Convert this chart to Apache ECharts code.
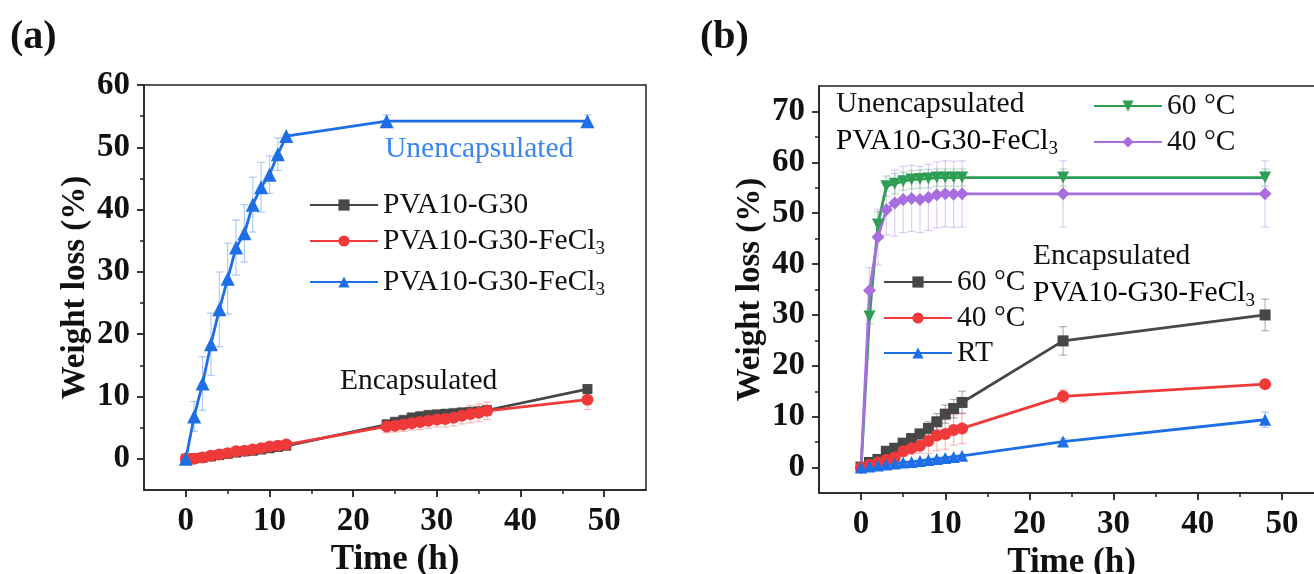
<!DOCTYPE html>
<html>
<head>
<meta charset="utf-8">
<script src="https://cdn.jsdelivr.net/npm/echarts@6/dist/echarts.min.js"></script>
<style>
  html, body { margin: 0; padding: 0; background: #fff; }
  #chart { width: 1314px; height: 574px; }
</style>
</head>
<body>
<div id="chart"></div>
<script>
// ---- panel (a): PVA10-G30 vs FeCl3, encapsulated / unencapsulated ----
const timeUnencA = [0, 1, 2, 3, 4, 5, 6, 7, 8, 9, 10, 11, 12, 24, 48];
const unencA = [0, 6.8, 12.1, 18.4, 24.0, 28.9, 33.9, 36.2, 40.8, 43.6, 45.6, 48.9, 51.8, 54.2, 54.2];
const unencAErr = [0, 2.4, 4.3, 5.0, 6.0, 5.7, 4.4, 4.6, 4.4, 4.0, 3.0, 2.6, 0.4, 1.0, 1.0];

const timeEncA = [0, 1, 2, 3, 4, 5, 6, 7, 8, 9, 10, 11, 12,
  24, 25, 26, 27, 28, 29, 30, 31, 32, 33, 34, 35, 36, 48];
const pvaA = [0, 0.1, 0.2, 0.4, 0.6, 0.8, 1.0, 1.2, 1.3, 1.5, 1.7, 1.9, 2.1,
  5.5, 5.9, 6.2, 6.6, 6.8, 7.0, 7.1, 7.2, 7.3, 7.4, 7.5, 7.6, 7.8, 11.2];
const pvaAErr = [0, 0.2, 0.2, 0.3, 0.3, 0.3, 0.3, 0.3, 0.3, 0.3, 0.3, 0.3, 0.3,
  0.8, 0.8, 0.8, 0.8, 0.8, 0.8, 0.8, 0.8, 0.8, 0.8, 0.8, 0.8, 0.8, 0.7];
const fecl3A = [0, 0, 0.2, 0.5, 0.7, 0.9, 1.2, 1.3, 1.5, 1.7, 2.0, 2.1, 2.3,
  5.2, 5.3, 5.5, 5.7, 5.9, 6.1, 6.3, 6.4, 6.6, 6.9, 7.2, 7.4, 7.7, 9.5];
const fecl3AErr = [0, 0.3, 0.3, 0.3, 0.3, 0.3, 0.3, 0.3, 0.3, 0.3, 0.4, 0.4, 0.4,
  1.0, 1.0, 1.1, 1.1, 1.2, 1.2, 1.2, 1.3, 1.3, 1.3, 1.4, 1.4, 1.4, 1.6];

// ---- panel (b): temperature ----
const timeB = [0, 1, 2, 3, 4, 5, 6, 7, 8, 9, 10, 11, 12, 24, 48];
const unenc60 = [0, 29.7, 47.8, 55.3, 55.8, 56.3, 56.6, 56.7, 56.8, 57.0, 57.0, 57.0, 57.0, 57.0, 57.0];
const unenc60Err = [0, 1.5, 2.5, 2.0, 2.0, 1.8, 1.8, 1.8, 1.8, 1.7, 1.7, 1.7, 1.7, 1.7, 1.7];
const unenc40 = [0, 34.8, 45.3, 50.7, 52.0, 52.7, 52.9, 52.7, 53.1, 53.6, 53.8, 53.7, 53.8, 53.8, 53.8];
const unenc40Err = [0, 4.5, 5.5, 5.0, 6.5, 6.5, 6.5, 6.5, 6.5, 6.5, 6.5, 6.5, 6.5, 6.5, 6.5];
const enc60 = [0, 1.0, 1.6, 3.2, 3.8, 4.8, 5.7, 6.6, 7.7, 9.0, 10.5, 11.6, 12.8, 24.9, 30.0];
const enc60Err = [0, 0.3, 0.4, 0.5, 0.6, 0.7, 0.8, 1.0, 1.3, 1.6, 1.8, 1.8, 2.2, 2.8, 3.1];
const enc40 = [0, 0.5, 1.0, 1.5, 2.0, 3.2, 3.8, 4.3, 5.2, 6.3, 6.6, 7.4, 7.7, 14.0, 16.4];
const enc40Err = [0, 0.3, 0.4, 0.6, 0.8, 1.0, 1.2, 1.5, 2.5, 3.0, 3.0, 3.0, 3.0, 1.3, 0.4];
const encRT = [0, 0.2, 0.4, 0.6, 0.8, 1.0, 1.1, 1.3, 1.5, 1.7, 1.9, 2.1, 2.3, 5.1, 9.4];
const encRTErr = [0, 0.1, 0.1, 0.2, 0.2, 0.2, 0.2, 0.2, 0.3, 0.3, 0.3, 0.3, 0.3, 0.6, 1.5];

const xMajor = [0, 10, 20, 30, 40, 50];
const xMinor = [5, 15, 25, 35, 45];
const yMajorA = [0, 10, 20, 30, 40, 50, 60];
const yMinorA = [5, 15, 25, 35, 45, 55];
const yMajorB = [0, 10, 20, 30, 40, 50, 60, 70];
const yMinorB = [5, 15, 25, 35, 45, 55, 65];

const FONT = "Liberation Serif";
const AXIS_COLOR = "#222";
const C_BLACK = "#474747";
const C_RED = "#f03a3a";
const C_BLUE = "#1e6ee6";
const C_GREEN = "#2f9e55";
const C_PURPLE = "#a86ee0";

const RICH = {
  a: { fontFamily: FONT, fontSize: 29.5, lineHeight: 36, color: "#111" },
  s: { fontFamily: FONT, fontSize: 19, lineHeight: 12, color: "#111", verticalAlign: "bottom" },
};

function mainX(grid) {
  return {
    gridIndex: grid, type: "value", min: -5, max: 55, position: "bottom",
    name: "Time (h)", nameLocation: "middle", nameGap: 47,
    nameTextStyle: { fontFamily: FONT, fontWeight: "bold", fontSize: 35, color: "#111" },
    axisLine: { show: true, onZero: false, lineStyle: { color: AXIS_COLOR, width: 1.5 } },
    axisTick: { show: true, inside: false, length: 7, customValues: xMajor, lineStyle: { color: AXIS_COLOR, width: 1.8 } },
    axisLabel: { customValues: xMajor, margin: 15, fontFamily: FONT, fontWeight: "bold", fontSize: 33, color: "#111" },
    splitLine: { show: false },
  };
}
function minorX(grid) {
  return {
    gridIndex: grid, type: "value", min: -5, max: 55, position: "bottom",
    axisLine: { show: false, onZero: false },
    axisTick: { show: true, inside: false, length: 4, customValues: xMinor, lineStyle: { color: AXIS_COLOR, width: 1.5 } },
    axisLabel: { show: false },
    splitLine: { show: false },
  };
}
function mainY(grid, max, major) {
  return {
    gridIndex: grid, type: "value", min: -5, max: max, position: "left",
    name: "Weight loss (%)", nameLocation: "middle", nameGap: 52, nameRotate: 90,
    nameTextStyle: { fontFamily: FONT, fontWeight: "bold", fontSize: 33, color: "#111" },
    axisLine: { show: true, onZero: false, lineStyle: { color: AXIS_COLOR, width: 1.5 } },
    axisTick: { show: true, inside: false, length: 7, customValues: major, lineStyle: { color: AXIS_COLOR, width: 1.8 } },
    axisLabel: { customValues: major, margin: 14, fontFamily: FONT, fontWeight: "bold", fontSize: 33, color: "#111" },
    splitLine: { show: false },
  };
}
function minorY(grid, max, minor) {
  return {
    gridIndex: grid, type: "value", min: -5, max: max, position: "left",
    axisLine: { show: false, onZero: false },
    axisTick: { show: true, inside: false, length: 4, customValues: minor, lineStyle: { color: AXIS_COLOR, width: 1.5 } },
    axisLabel: { show: false },
    splitLine: { show: false },
  };
}

function errorBars(xs, vals, errs, color, axis) {
  return {
    type: "custom", xAxisIndex: axis, yAxisIndex: axis, silent: true, z: 1,
    data: xs.map((t, i) => [t, vals[i] - errs[i], vals[i] + errs[i]]),
    encode: { x: 0, y: [1, 2] },
    renderItem: function (params, api) {
      const lo = api.coord([api.value(0), api.value(1)]);
      const hi = api.coord([api.value(0), api.value(2)]);
      const w = 4;
      const st = { stroke: color, lineWidth: 1.2 };
      return {
        type: "group",
        children: [
          { type: "line", shape: { x1: lo[0], y1: lo[1], x2: hi[0], y2: hi[1] }, style: st },
          { type: "line", shape: { x1: lo[0] - w, y1: lo[1], x2: lo[0] + w, y2: lo[1] }, style: st },
          { type: "line", shape: { x1: hi[0] - w, y1: hi[1], x2: hi[0] + w, y2: hi[1] }, style: st },
        ],
      };
    },
  };
}

function lineSeries(name, xs, vals, color, symbol, size, axis, rotate) {
  return {
    name: name, type: "line", xAxisIndex: axis, yAxisIndex: axis, z: 3,
    data: xs.map((t, i) => [t, vals[i]]),
    symbol: symbol, symbolSize: size, symbolRotate: rotate || 0,
    showSymbol: true,
    color: color,
    itemStyle: { color: color },
    lineStyle: { color: color, width: 2.8 },
  };
}

function legendAt(name, label, left, cy) {
  return {
    data: [name], left: left, top: cy - 14, padding: 0, orient: "vertical",
    itemWidth: 68, itemHeight: 14, selectedMode: false,
    formatter: function () { return label; },
    textStyle: { rich: RICH },
  };
}

const myChart = echarts.init(document.getElementById("chart"));

const gridBase = {
  show: true, borderColor: AXIS_COLOR, borderWidth: 1.5,
  backgroundColor: "transparent", outerBoundsMode: "none", containLabel: false,
};

const option = {
  animation: false,
  backgroundColor: "#fff",
  grid: [
    { ...gridBase, left: 144, top: 85, width: 502, height: 405 },
    { ...gridBase, left: 819, top: 86, width: 505, height: 407 },
  ],
  xAxis: [mainX(0), minorX(0), mainX(1), minorX(1)],
  yAxis: [mainY(0, 60, yMajorA), minorY(0, 60, yMinorA), mainY(1, 75, yMajorB), minorY(1, 75, yMinorB)],
  legend: [
    legendAt("PVA10-G30", "{a|PVA10-G30}", 309, 204),
    legendAt("FeCl3 encapsulated", "{a|PVA10-G30-FeCl}{s|3}", 309, 240),
    legendAt("FeCl3 unencapsulated", "{a|PVA10-G30-FeCl}{s|3}", 309, 281),
    legendAt("Unenc 60", "{a|60 °C}", 1093, 105),
    legendAt("Unenc 40", "{a|40 °C}", 1093, 141),
    legendAt("Enc 60", "{a|60 °C}", 883, 281),
    legendAt("Enc 40", "{a|40 °C}", 883, 317),
    legendAt("Enc RT", "{a|RT}", 883, 352),
  ],
  graphic: [
    { type: "text", x: 10, y: 38, style: { text: "(a)", font: "bold 40px " + FONT, fill: "#111", verticalAlign: "middle" } },
    { type: "text", x: 700, y: 38, style: { text: "(b)", font: "bold 40px " + FONT, fill: "#111", verticalAlign: "middle" } },
    { type: "text", x: 385, y: 149, style: { text: "Unencapsulated", font: "29.5px " + FONT, fill: "#3a86ee", verticalAlign: "middle" } },
    { type: "text", x: 340, y: 381, style: { text: "Encapsulated", font: "29.5px " + FONT, fill: "#111", verticalAlign: "middle" } },
    { type: "text", x: 836, y: 104, style: { text: "Unencapsulated", font: "29.5px " + FONT, fill: "#111", verticalAlign: "middle" } },
    { type: "text", x: 836, y: 141, style: { text: "{a|PVA10-G30-FeCl}{s|3}", rich: RICH, verticalAlign: "middle" } },
    { type: "text", x: 1033, y: 256, style: { text: "Encapsulated", font: "29.5px " + FONT, fill: "#111", verticalAlign: "middle" } },
    { type: "text", x: 1033, y: 293, style: { text: "{a|PVA10-G30-FeCl}{s|3}", rich: RICH, verticalAlign: "middle" } },
  ],
  series: [
    errorBars(timeEncA, pvaA, pvaAErr, "rgba(70,70,70,0.4)", 0),
    errorBars(timeEncA, fecl3A, fecl3AErr, "rgba(240,60,60,0.35)", 0),
    errorBars(timeUnencA, unencA, unencAErr, "rgba(30,110,230,0.35)", 0),
    lineSeries("PVA10-G30", timeEncA, pvaA, C_BLACK, "rect", 10, 0),
    lineSeries("FeCl3 encapsulated", timeEncA, fecl3A, C_RED, "circle", 12, 0),
    lineSeries("FeCl3 unencapsulated", timeUnencA, unencA, C_BLUE, "triangle", 14, 0),

    errorBars(timeB, unenc60, unenc60Err, "rgba(47,158,85,0.35)", 2),
    errorBars(timeB, unenc40, unenc40Err, "rgba(168,110,224,0.35)", 2),
    errorBars(timeB, enc60, enc60Err, "rgba(70,70,70,0.4)", 2),
    errorBars(timeB, enc40, enc40Err, "rgba(240,60,60,0.35)", 2),
    errorBars(timeB, encRT, encRTErr, "rgba(30,110,230,0.35)", 2),
    lineSeries("Unenc 60", timeB, unenc60, C_GREEN, "triangle", 12, 2, 180),
    lineSeries("Unenc 40", timeB, unenc40, C_PURPLE, "diamond", 13, 2),
    lineSeries("Enc 60", timeB, enc60, C_BLACK, "rect", 11, 2),
    lineSeries("Enc 40", timeB, enc40, C_RED, "circle", 12, 2),
    lineSeries("Enc RT", timeB, encRT, C_BLUE, "triangle", 12, 2),
  ],
};

option && myChart.setOption(option);
</script>
</body>
</html>
